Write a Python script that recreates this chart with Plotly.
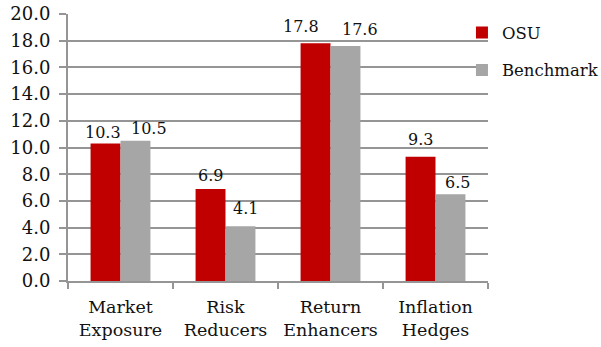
import plotly.graph_objects as go

categories = ["Market<br>Exposure", "Risk<br>Reducers", "Return<br>Enhancers", "Inflation<br>Hedges"]
osu = [10.3, 6.9, 17.8, 9.3]
benchmark = [10.5, 4.1, 17.6, 6.5]
y_ticks = [0, 2, 4, 6, 8, 10, 12, 14, 16, 18, 20]

# label nudges (pixels) so neighbouring value labels don't collide
osu_label_dx = [-3, 0, -15, 0]
osu_label_dy = [0, 2, 5, 6]
bench_label_dx = [13, 5, 14, 7]
bench_label_dy = [1, 6, 5, 0]

FONT = "DejaVu Serif"
GRID = "#959595"
INK = "#111111"
BAR_HALF = 15  # half of one bar's pixel width within a group

fig = go.Figure()
fig.add_trace(go.Bar(
    name="OSU", x=categories, y=osu, marker_color="#C00000", marker_line_width=0,
    legendgroup="a",
))
fig.add_trace(go.Bar(
    name="Benchmark", x=categories, y=benchmark, marker_color="#A6A6A6", marker_line_width=0,
    legendgroup="b",
))

annotations = []
for values, side, dxs, dys in ((osu, -1, osu_label_dx, osu_label_dy),
                               (benchmark, 1, bench_label_dx, bench_label_dy)):
    for cat, v, dx, dy in zip(categories, values, dxs, dys):
        annotations.append(dict(
            x=cat, y=v, xref="x", yref="y", text=f"{v:.1f}", showarrow=False,
            xanchor="center", yanchor="bottom",
            xshift=side * BAR_HALF + dx, yshift=dy,
            font=dict(family=FONT, size=16, color=INK),
        ))

fig.update_layout(
    width=601, height=347,
    margin=dict(l=68, r=113, t=14, b=66, autoexpand=False),
    paper_bgcolor="white", plot_bgcolor="white",
    barmode="group", bargap=0.43, bargroupgap=0,
    font=dict(family=FONT, size=17, color=INK),
    annotations=annotations,
    legend=dict(
        x=0.938, y=0.995, xanchor="left", yanchor="top",
        font=dict(family=FONT, size=16.5, color=INK),
        traceorder="grouped", tracegroupgap=13,
        itemwidth=30, bgcolor="rgba(0,0,0,0)",
    ),
    xaxis=dict(
        showline=True, linecolor=GRID, linewidth=2,
        ticks="outside", tickson="boundaries", ticklen=6, tickwidth=2, tickcolor=GRID,
        tickangle=0, ticklabelstandoff=9,
        tickfont=dict(family=FONT, size=17.5, color=INK),
        showgrid=False,
    ),
    yaxis=dict(
        range=[0, 20], tickvals=y_ticks, tickformat=".1f",
        showline=True, linecolor=GRID, linewidth=2,
        ticks="outside", ticklen=7, tickwidth=2, tickcolor=GRID,
        ticklabelstandoff=5,
        showgrid=True, gridcolor=GRID, gridwidth=2,
        tickfont=dict(family=FONT, size=18, color=INK),
        zeroline=False,
    ),
)

fig.write_html("out.html")
